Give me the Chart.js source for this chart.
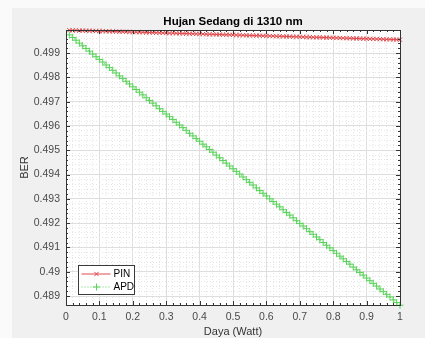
<!DOCTYPE html>
<html>
<head>
<meta charset="utf-8">
<script src="https://cdn.jsdelivr.net/npm/chart.js@4/dist/chart.umd.min.js"></script>
<style>
  html, body { margin: 0; padding: 0; background: #fafafa; }
  canvas { display: block; }
</style>
</head>
<body>
<canvas id="myChart" width="425" height="338"></canvas>
<script>
// daya (watt) on the x axis
var daya = [
  0.01, 0.02, 0.03, 0.04, 0.05, 0.06, 0.07, 0.08, 0.09, 0.10,
  0.11, 0.12, 0.13, 0.14, 0.15, 0.16, 0.17, 0.18, 0.19, 0.20,
  0.21, 0.22, 0.23, 0.24, 0.25, 0.26, 0.27, 0.28, 0.29, 0.30,
  0.31, 0.32, 0.33, 0.34, 0.35, 0.36, 0.37, 0.38, 0.39, 0.40,
  0.41, 0.42, 0.43, 0.44, 0.45, 0.46, 0.47, 0.48, 0.49, 0.50,
  0.51, 0.52, 0.53, 0.54, 0.55, 0.56, 0.57, 0.58, 0.59, 0.60,
  0.61, 0.62, 0.63, 0.64, 0.65, 0.66, 0.67, 0.68, 0.69, 0.70,
  0.71, 0.72, 0.73, 0.74, 0.75, 0.76, 0.77, 0.78, 0.79, 0.80,
  0.81, 0.82, 0.83, 0.84, 0.85, 0.86, 0.87, 0.88, 0.89, 0.90,
  0.91, 0.92, 0.93, 0.94, 0.95, 0.96, 0.97, 0.98, 0.99, 1.00
];

// BER for PIN
var berPIN = [
  0.499940, 0.499936, 0.499932, 0.499928, 0.499924, 0.499920, 0.499916, 0.499912, 0.499908, 0.499905,
  0.499901, 0.499897, 0.499893, 0.499889, 0.499885, 0.499881, 0.499877, 0.499873, 0.499869, 0.499865,
  0.499861, 0.499857, 0.499853, 0.499849, 0.499845, 0.499842, 0.499838, 0.499834, 0.499830, 0.499826,
  0.499822, 0.499818, 0.499814, 0.499810, 0.499806, 0.499802, 0.499798, 0.499794, 0.499790, 0.499786,
  0.499782, 0.499778, 0.499775, 0.499771, 0.499767, 0.499763, 0.499759, 0.499755, 0.499751, 0.499747,
  0.499743, 0.499739, 0.499735, 0.499731, 0.499727, 0.499723, 0.499719, 0.499715, 0.499711, 0.499708,
  0.499704, 0.499700, 0.499696, 0.499692, 0.499688, 0.499684, 0.499680, 0.499676, 0.499672, 0.499668,
  0.499664, 0.499660, 0.499656, 0.499652, 0.499648, 0.499645, 0.499641, 0.499637, 0.499633, 0.499629,
  0.499625, 0.499621, 0.499617, 0.499613, 0.499609, 0.499605, 0.499601, 0.499597, 0.499593, 0.499589,
  0.499585, 0.499581, 0.499578, 0.499574, 0.499570, 0.499566, 0.499562, 0.499558, 0.499554, 0.499550
];

// BER for APD
var berAPD = [
  0.49975, 0.49964, 0.49953, 0.49941, 0.49930, 0.49919, 0.49908, 0.49896, 0.49885, 0.49874,
  0.49863, 0.49851, 0.49840, 0.49829, 0.49818, 0.49806, 0.49795, 0.49784, 0.49773, 0.49761,
  0.49750, 0.49739, 0.49728, 0.49716, 0.49705, 0.49694, 0.49683, 0.49671, 0.49660, 0.49649,
  0.49638, 0.49627, 0.49615, 0.49604, 0.49593, 0.49582, 0.49570, 0.49559, 0.49548, 0.49537,
  0.49525, 0.49514, 0.49503, 0.49492, 0.49480, 0.49469, 0.49458, 0.49447, 0.49435, 0.49424,
  0.49413, 0.49402, 0.49390, 0.49379, 0.49368, 0.49357, 0.49345, 0.49334, 0.49323, 0.49312,
  0.49300, 0.49289, 0.49278, 0.49267, 0.49255, 0.49244, 0.49233, 0.49222, 0.49210, 0.49199,
  0.49188, 0.49177, 0.49165, 0.49154, 0.49143, 0.49132, 0.49120, 0.49109, 0.49098, 0.49087,
  0.49076, 0.49064, 0.49053, 0.49042, 0.49031, 0.49019, 0.49008, 0.48997, 0.48986, 0.48974,
  0.48963, 0.48952, 0.48941, 0.48929, 0.48918, 0.48907, 0.48896, 0.48884, 0.48873, 0.48862
];

var seriesNames = ['PIN', 'APD'];

// axis ranges and tick steps
var xMin = 0, xMax = 1, xMajor = 0.1, xMinor = 0.02;
var yMin = 0.48863, yMax = 0.49995, yMajor = 0.001, yMinor = 0.0002;

var RED = '#e04b4e';
var GREEN = '#58d258';
var FONT = "'Liberation Sans', Arial, sans-serif";

function isMajor(v, step) {
    var r = v / step;
    return Math.abs(r - Math.round(r)) < 1e-6;
}

function toPoints(xs, ys) {
    return xs.map(function(x, i) { return {x: x, y: ys[i]}; });
}

// figure background + white axes
var backgroundPlugin = {
    id: 'figureBg',
    beforeDraw: function(chart) {
        var ctx = chart.ctx, a = chart.chartArea;
        ctx.save();
        ctx.fillStyle = '#fafafa';
        ctx.fillRect(0, 0, chart.width, chart.height);
        ctx.fillStyle = '#f0f0f0';
        ctx.fillRect(12, 8, chart.width - 12, chart.height - 8);
        ctx.fillStyle = '#ffffff';
        ctx.fillRect(a.left, a.top, a.right - a.left, a.bottom - a.top);
        ctx.restore();
    }
};

// matlab style box, inward ticks and legend
var boxPlugin = {
    id: 'matlabBox',
    afterDraw: function(chart) {
        var ctx = chart.ctx, a = chart.chartArea;
        var xs = chart.scales.x, ys = chart.scales.y;
        ctx.save();
        ctx.strokeStyle = '#333333';
        ctx.lineWidth = 1;
        ctx.beginPath();
        xs.ticks.forEach(function(t) {
            var len = isMajor(t.value, xMajor) ? 4 : 2;
            var px = Math.round(xs.getPixelForValue(t.value)) + 0.5;
            ctx.moveTo(px, a.bottom); ctx.lineTo(px, a.bottom - len);
            ctx.moveTo(px, a.top); ctx.lineTo(px, a.top + len);
        });
        ys.ticks.forEach(function(t) {
            var len = isMajor(t.value, yMajor) ? 4 : 2;
            var py = Math.round(ys.getPixelForValue(t.value)) + 0.5;
            ctx.moveTo(a.left, py); ctx.lineTo(a.left + len, py);
            ctx.moveTo(a.right, py); ctx.lineTo(a.right - len, py);
        });
        ctx.stroke();
        ctx.strokeRect(Math.round(a.left) + 0.5, Math.round(a.top) + 0.5,
            Math.round(a.right - a.left), Math.round(a.bottom - a.top));

        // legend
        var bx = Math.round(a.left) + 12.5, bw = 56, bh = 29;
        var by = Math.round(a.bottom) - 39.5;
        ctx.fillStyle = '#ffffff';
        ctx.fillRect(bx, by, bw, bh);
        ctx.strokeStyle = '#3a3a3a';
        ctx.strokeRect(bx, by, bw, bh);
        chart.data.datasets.forEach(function(ds, i) {
            var cy = by + 8.5 + i * 13;
            ctx.save();
            ctx.strokeStyle = ds.borderColor;
            ctx.lineWidth = 1;
            ctx.setLineDash(ds.borderDash || []);
            ctx.beginPath();
            ctx.moveTo(bx + 3, cy); ctx.lineTo(bx + 32, cy);
            ctx.stroke();
            ctx.restore();
            ctx.strokeStyle = ds.borderColor;
            ctx.fillStyle = ds.borderColor;
            ctx.lineWidth = 1;
            Chart.helpers.drawPoint(ctx, {pointStyle: ds.pointStyle, radius: ds.pointRadius, borderWidth: 1, rotation: 0}, bx + 18, cy);
            ctx.fillStyle = '#000000';
            ctx.font = '10px ' + FONT;
            ctx.textBaseline = 'middle';
            ctx.textAlign = 'left';
            ctx.fillText(ds.label, bx + 35, cy + 0.5);
        });
        ctx.restore();
    }
};

window.onload = function() {
    var ctx = document.getElementById('myChart').getContext('2d');
    var myChart = new Chart(ctx, {
        type: 'line',
        data: {
            datasets: [{
                label: seriesNames[0],
                data: toPoints(daya, berPIN),
                borderColor: RED,
                backgroundColor: RED,
                borderWidth: 1,
                pointStyle: 'crossRot',
                pointRadius: 3,
                pointBorderWidth: 1,
                pointBorderColor: RED,
                fill: false,
                tension: 0,
                clip: 4
            }, {
                label: seriesNames[1],
                data: toPoints(daya, berAPD),
                borderColor: GREEN,
                backgroundColor: GREEN,
                borderWidth: 1,
                borderDash: [1, 2],
                pointStyle: 'cross',
                pointRadius: 3.5,
                pointBorderWidth: 1,
                pointBorderColor: GREEN,
                fill: false,
                tension: 0,
                clip: 4
            }]
        },
        options: {
            responsive: false,
            animation: false,
            layout: { padding: { left: 0, right: 25, top: 0, bottom: 0 } },
            plugins: {
                legend: { display: false },
                tooltip: { enabled: false },
                title: {
                    display: true,
                    text: 'Hujan Sedang di 1310 nm',
                    fullSize: false,
                    color: '#000000',
                    font: { family: FONT, size: 11.5, weight: 'bold' },
                    padding: { top: 14.6, bottom: 1.6 }
                }
            },
            scales: {
                x: {
                    type: 'linear',
                    min: xMin,
                    max: xMax,
                    afterFit: function(scale) { scale.height = 33; },
                    border: {
                        display: false,
                        dash: function(c) { return (c.tick && !isMajor(c.tick.value, xMajor)) ? [1, 2] : []; }
                    },
                    grid: {
                        drawTicks: false,
                        color: function(c) { return (c.tick && isMajor(c.tick.value, xMajor)) ? '#dedede' : '#e6e6e6'; }
                    },
                    ticks: {
                        stepSize: xMinor,
                        autoSkip: false,
                        maxRotation: 0,
                        padding: 6,
                        color: '#4a4a4a',
                        font: { family: FONT, size: 10.5 },
                        callback: function(v) { return isMajor(v, xMajor) ? String(Number(v.toFixed(1))) : ''; }
                    },
                    title: {
                        display: true,
                        text: 'Daya (Watt)',
                        color: '#333333',
                        font: { family: FONT, size: 11 },
                        padding: { top: 0, bottom: -1 }
                    }
                },
                y: {
                    type: 'linear',
                    min: yMin,
                    max: yMax,
                    afterFit: function(scale) { scale.width = 66; },
                    border: {
                        display: false,
                        dash: function(c) { return (c.tick && !isMajor(c.tick.value, yMajor)) ? [1, 2] : []; }
                    },
                    grid: {
                        drawTicks: false,
                        color: function(c) { return (c.tick && isMajor(c.tick.value, yMajor)) ? '#dedede' : '#e6e6e6'; }
                    },
                    ticks: {
                        stepSize: yMinor,
                        autoSkip: false,
                        padding: 6,
                        color: '#4a4a4a',
                        font: { family: FONT, size: 10.5 },
                        callback: function(v) { return isMajor(v, yMajor) ? String(Number(v.toFixed(3))) : ''; }
                    },
                    title: {
                        display: true,
                        text: 'BER',
                        color: '#333333',
                        font: { family: FONT, size: 11 },
                        padding: { top: 18, bottom: 0 }
                    }
                }
            }
        },
        plugins: [backgroundPlugin, boxPlugin]
    });
};
</script>
</body>
</html>
